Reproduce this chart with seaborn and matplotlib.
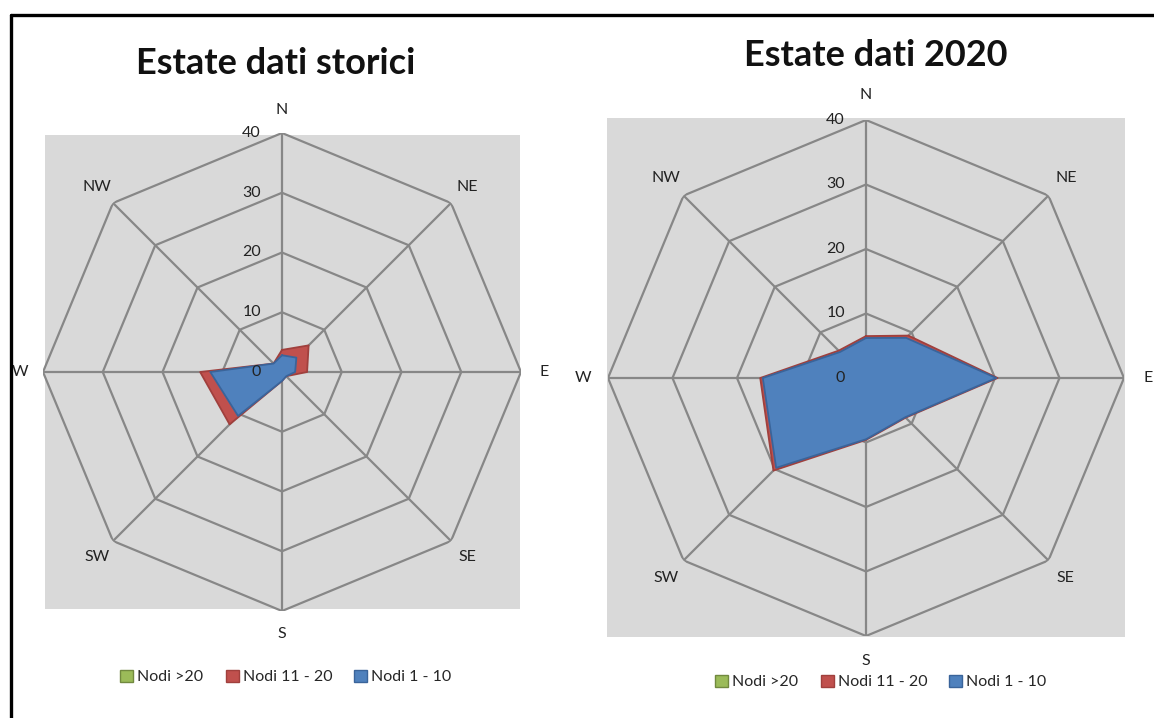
import numpy as np
import matplotlib
matplotlib.use("Agg")
import matplotlib.pyplot as plt
import seaborn as sns
from matplotlib.patches import Rectangle, Patch
from matplotlib.lines import Line2D

# ---------------- data ----------------
directions = ["N", "NE", "E", "SE", "S", "SW", "W", "NW"]
series_names = ["Nodi >20", "Nodi 11 - 20", "Nodi 1 - 10"]
ring_ticks = [0, 10, 20, 30, 40]
titles = ["Estate dati storici", "Estate dati 2020"]

storici_gt20 = [0, 0, 0, 0, 0, 0, 0, 0]
storici_11_20 = [3.7, 6.3, 4.2, 1.0, 1.5, 12.4, 13.7, 2.0]
storici_1_10 = [2.8, 3.4, 2.2, 1.0, 1.5, 10.4, 12.0, 2.0]

d2020_gt20 = [0, 0, 0, 0, 0, 0, 0, 0]
d2020_11_20 = [6.5, 9.3, 20.4, 8.7, 9.6, 20.3, 16.4, 6.0]
d2020_1_10 = [6.2, 8.8, 20.2, 8.6, 9.5, 19.7, 16.0, 5.7]

# ---------------- style ----------------
sns.set_theme(style="white")
plt.rcParams["font.family"] = ["Lato", "DejaVu Sans"]

fill_colors = ["#9BBB59", "#C0504D", "#4F81BD"]
edge_colors = ["#71893F", "#A0403D", "#3A649A"]
grid_color = "#878787"
bg_color = "#D9D9D9"

W, H = 1154, 718
fig = plt.figure(figsize=(W / 100, H / 100), dpi=100)
fig.patch.set_facecolor("white")


def fx(px):
    return px / W


def fy(py):
    return 1 - py / H


# gray plot areas (pixel boxes: x0, y0, x1, y1)
bg_boxes = [(45, 135, 520, 609), (607, 118, 1125, 637)]
for x0, y0, x1, y1 in bg_boxes:
    fig.add_artist(Rectangle((fx(x0), fy(y1)), fx(x1 - x0), (y1 - y0) / H,
                             transform=fig.transFigure, facecolor=bg_color,
                             edgecolor="none", zorder=-5))

# polar axes: center and radius (pixels)
geoms = [(282, 372, 239), (866, 378, 258)]
datasets = [
    [storici_gt20, storici_11_20, storici_1_10],
    [d2020_gt20, d2020_11_20, d2020_1_10],
]
title_pos = [(276, 63), (876, 56)]
legend_pos = [(286, 677), (881, 682)]

angles = np.arange(len(directions)) * 2 * np.pi / len(directions)
closed = np.append(angles, angles[0])

for (cx, cy, rad), data, title, tpos, lpos in zip(geoms, datasets, titles,
                                                   title_pos, legend_pos):
    ax = fig.add_axes([fx(cx - rad), fy(cy + rad), 2 * rad / W, 2 * rad / H],
                      projection="polar")
    ax.set_theta_zero_location("N")
    ax.set_theta_direction(-1)
    ax.set_ylim(0, 40)
    ax.grid(False)
    ax.spines["polar"].set_visible(False)
    ax.set_xticks([])
    ax.set_yticks([])
    ax.patch.set_alpha(0)

    # octagonal grid
    for t in ring_ticks[1:]:
        ax.plot(closed, [t] * len(closed), color=grid_color, lw=1.6, zorder=1)
    for a in angles:
        ax.plot([a, a], [0, ring_ticks[-1]], color=grid_color, lw=1.6, zorder=1)

    # filled series
    handles = []
    for i, (vals, fc, ec, name) in enumerate(zip(data, fill_colors,
                                                 edge_colors, series_names)):
        v = np.append(vals, vals[0])
        ax.fill(closed, v, color=fc, zorder=2 + i, lw=0)
        if max(vals) > 0:
            ax.plot(closed, v, color=ec, lw=1.3, zorder=2 + i)
        handles.append(Patch(facecolor=fc, edgecolor=ec, label=name))

    # radial tick labels
    for t in ring_ticks:
        ax.annotate(str(t), xy=(0, t), xytext=(-21, 0),
                    textcoords="offset pixels", ha="right", va="center",
                    fontsize=11.5, color="#222222", zorder=10)
    # direction labels
    for a, d in zip(angles, directions):
        ax.text(a, 43.8, d, ha="center", va="center", fontsize=11.5,
                color="#222222", clip_on=False)

    fig.text(fx(tpos[0]), fy(tpos[1]), title, ha="center", va="center",
             fontsize=26, fontweight="bold", color="#111111")

    ax.legend(handles=handles, loc="center",
              bbox_to_anchor=(fx(lpos[0]), fy(lpos[1])),
              bbox_transform=fig.transFigure, ncol=3, frameon=False,
              handlelength=0.8, handleheight=0.8, handletextpad=0.25,
              columnspacing=1.4, fontsize=11.5)

# outer black frame (left and top edges)
fig.add_artist(Line2D([fx(11.5), fx(11.5)], [0, fy(14.5)], color="black",
                      lw=2.4, transform=fig.transFigure))
fig.add_artist(Line2D([fx(10.5), 1], [fy(14.5), fy(14.5)], color="black",
                      lw=2.4, transform=fig.transFigure))

fig.savefig("out.png", dpi=100, facecolor="white")
